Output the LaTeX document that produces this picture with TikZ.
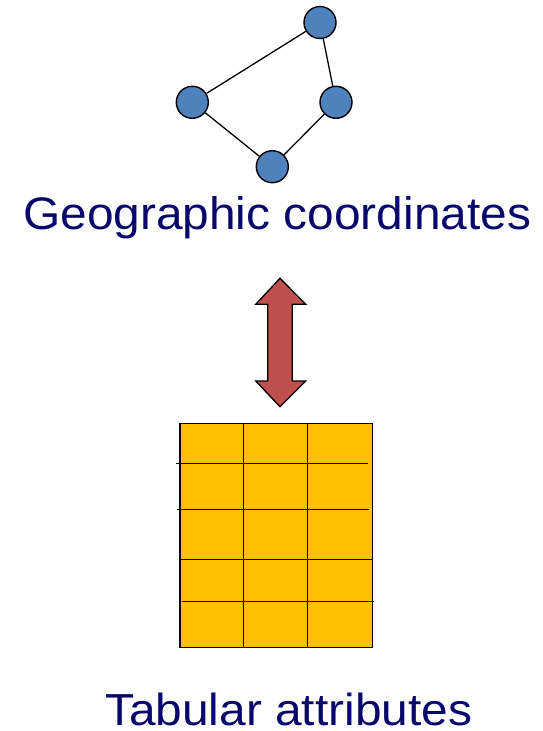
\documentclass[tikz,border=0pt]{standalone}
\usepackage{fontspec}
\setmainfont{Liberation Sans}
\definecolor{navy}{RGB}{8,8,108}
\definecolor{nodeblue}{RGB}{79,129,189}
\definecolor{arrowred}{RGB}{192,80,77}
\definecolor{tablegold}{RGB}{255,192,0}
\begin{document}
\begin{tikzpicture}[x=1pt,y=-1pt,
  vtx/.style={circle,draw=black,line width=1.4pt,fill=nodeblue,minimum size=32pt,inner sep=0pt},
  edge/.style={draw=black,line width=1.3pt},
  gridline/.style={draw=black,line width=1.5pt},
  label/.style={anchor=base west,inner sep=0pt,text=navy}]
\useasboundingbox (0,0) rectangle (542,731);
% graph
\node[vtx] (t) at (320,22.5) {};
\node[vtx] (l) at (192.3,102.3) {};
\node[vtx] (r) at (336,102.3) {};
\node[vtx] (b) at (272.3,166.7) {};
\draw[edge] (t) -- (l);
\draw[edge] (t) -- (r);
\draw[edge] (r) -- (b);
\draw[edge] (l) -- (b);
% labels
\node[label] (geo) at (23,229.3) {\resizebox{508pt}{33pt}{\fontsize{45}{45}\selectfont Geographic coordinates}};
\node[label] (tab) at (105,725.7) {\resizebox{367pt}{32.5pt}{\fontsize{45}{45}\selectfont Tabular attributes}};
% double arrow
\draw[fill=arrowred,line width=1.3pt,line join=miter]
  (280,278.3) -- (305.7,304.3) -- (292.3,304.3) -- (292.3,381) -- (305.7,381)
  -- (280,406.7) -- (255.7,381) -- (267.7,381) -- (267.7,304.3) -- (255.7,304.3) -- cycle;
% table
\node[draw=black,line width=1.5pt,fill=tablegold,minimum width=192.7pt,minimum height=224pt,inner sep=0pt,anchor=north west] (tbl) at (179,422.7) {};
\draw[gridline] (243.3,422.7) -- (243.3,646.7);
\draw[gridline] (307.3,422.7) -- (307.3,646.7);
\draw[gridline] (176,463.7) -- (368.3,463.7);
\draw[gridline] (177.3,509.3) -- (369,509.3);
\draw[gridline] (180.7,559.3) -- (372.7,559.3);
\draw[gridline] (181.7,601.7) -- (373.7,601.7);
\end{tikzpicture}
\end{document}
